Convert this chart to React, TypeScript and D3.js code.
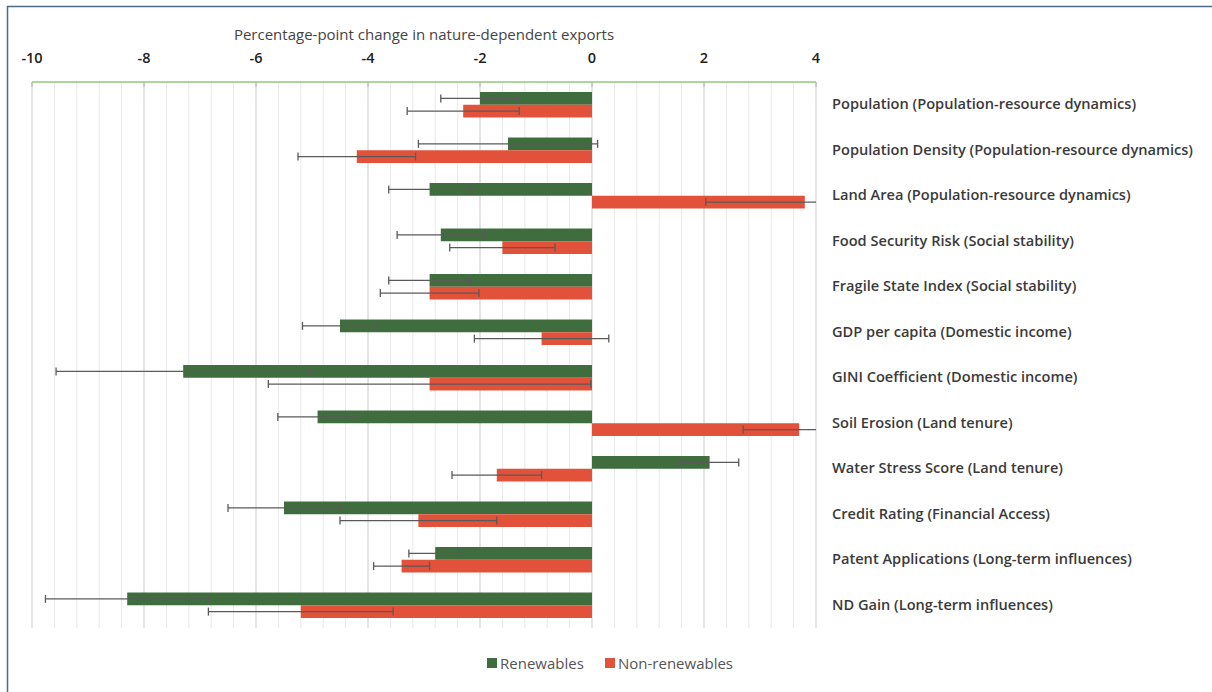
import React from "react";
import * as d3 from "d3";

const categories = [
  "Population (Population-resource dynamics)",
  "Population Density (Population-resource dynamics)",
  "Land Area (Population-resource dynamics)",
  "Food Security Risk (Social stability)",
  "Fragile State Index (Social stability)",
  "GDP per capita (Domestic income)",
  "GINI Coefficient (Domestic income)",
  "Soil Erosion (Land tenure)",
  "Water Stress Score (Land tenure)",
  "Credit Rating (Financial Access)",
  "Patent Applications (Long-term influences)",
  "ND Gain (Long-term influences)",
];
const renewables = [-2.0, -1.5, -2.9, -2.7, -2.9, -4.5, -7.3, -4.9, 2.1, -5.5, -2.8, -8.3];
const renewablesErr = [0.7, 1.6, 0.73, 0.78, 0.73, 0.67, 2.27, 0.71, 0.52, 1.0, 0.47, 1.46];
const nonRenewables = [-2.3, -4.2, 3.8, -1.6, -2.9, -0.9, -2.9, 3.7, -1.7, -3.1, -3.4, -5.2];
const nonRenewablesErr = [1.0, 1.05, 1.77, 0.94, 0.88, 1.2, 2.88, 1.0, 0.8, 1.4, 0.5, 1.65];
const xTicks = [-10, -8, -6, -4, -2, 0, 2, 4];
const seriesNames = ["Renewables", "Non-renewables"];
const axisTitle = "Percentage-point change in nature-dependent exports";

const GREEN = "#3f6d3e";
const RED = "#e2513a";
const FONT = "'Open Sans', 'Noto Sans', sans-serif";

export default function App() {
  const W = 1212;
  const H = 692;
  const left = 32;
  const right = 816;
  const top = 82;
  const bottom = 628;

  const x = d3.scaleLinear().domain([-10, 4]).range([left, right]);
  const y = d3.scaleBand<string>().domain(categories).range([top, bottom]).paddingInner(0.44).paddingOuter(0.22);
  const sub = d3.scaleBand<string>().domain(seriesNames).range([0, y.bandwidth()]);

  const minor = d3.range(-10, 4.0001, 0.4).map((v) => Math.round(v * 10) / 10);

  const series = [
    { name: seriesNames[0], vals: renewables, errs: renewablesErr, color: GREEN },
    { name: seriesNames[1], vals: nonRenewables, errs: nonRenewablesErr, color: RED },
  ];

  const clampX = (v: number) => Math.max(left, Math.min(right, x(v)));

  return (
    <svg width={W} height={H} style={{ position: "absolute", left: 0, top: 0, background: "#fff" }} fontFamily={FONT}>
      {/* frame */}
      <line x1={7} y1={6.5} x2={W} y2={6.5} stroke="#4d6b82" strokeWidth={1.5} />
      <line x1={7.5} y1={6} x2={7.5} y2={H} stroke="#4d6b82" strokeWidth={1.5} />

      {/* minor gridlines */}
      {minor.map((v, i) => (
        <line key={"m" + i} x1={x(v)} x2={x(v)} y1={top} y2={bottom} stroke="#e8e8e8" strokeWidth={1} />
      ))}
      {/* major gridlines */}
      {xTicks.map((v) => (
        <line key={"g" + v} x1={x(v)} x2={x(v)} y1={top} y2={bottom} stroke="#d6d6d6" strokeWidth={1} />
      ))}
      {/* top axis line */}
      <line x1={left} x2={right} y1={top} y2={top} stroke="#93c77a" strokeWidth={1.5} />
      {xTicks.map((v) => (
        <line key={"t" + v} x1={x(v)} x2={x(v)} y1={top} y2={top + 5} stroke="#b0b0b0" strokeWidth={1} />
      ))}
      {xTicks.map((v) => (
        <text key={"l" + v} x={x(v)} y={63} textAnchor="middle" fontSize={14.5} fontWeight={600} fill="#222">
          {v}
        </text>
      ))}
      <text x={(left + right) / 2} y={40} textAnchor="middle" fontSize={15} fontWeight={500} fill="#444">
        {axisTitle}
      </text>

      {/* bars */}
      {series.map((s) =>
        categories.map((c, i) => {
          const v = s.vals[i];
          const y0 = (y(c) ?? 0) + (sub(s.name) ?? 0);
          const h = sub.bandwidth();
          return (
            <rect
              key={s.name + c}
              x={Math.min(x(0), x(v))}
              y={y0}
              width={Math.abs(x(v) - x(0))}
              height={h}
              fill={s.color}
            />
          );
        })
      )}
      {/* error bars */}
      {series.map((s) =>
        categories.map((c, i) => {
          const v = s.vals[i];
          const e = s.errs[i];
          const cy = (y(c) ?? 0) + (sub(s.name) ?? 0) + sub.bandwidth() / 2;
          const lo = v - e;
          const hi = v + e;
          const xl = clampX(lo);
          const xh = clampX(hi);
          return (
            <g key={"e" + s.name + c} stroke="#5a5a5a" strokeWidth={1.3}>
              <line x1={xl} x2={xh} y1={cy} y2={cy} />
              {x(lo) >= left && <line x1={xl} x2={xl} y1={cy - 4} y2={cy + 4} />}
              {x(hi) <= right && <line x1={xh} x2={xh} y1={cy - 4} y2={cy + 4} />}
            </g>
          );
        })
      )}

      {/* category labels */}
      {categories.map((c) => (
        <text
          key={"c" + c}
          x={832}
          y={(y(c) ?? 0) + y.bandwidth() / 2 - 1.5}
          dominantBaseline="central"
          fontSize={14.6}
          fontWeight={600}
          fill="#3a3a3a"
        >
          {c}
        </text>
      ))}

      {/* legend */}
      {series.map((s, i) => {
        const lx = i === 0 ? 487 : 605;
        return (
          <g key={"lg" + s.name}>
            <rect x={lx} y={658} width={10} height={10} fill={s.color} />
            <text x={lx + 13} y={663} dominantBaseline="central" fontSize={15} fontWeight={500} fill="#555">
              {s.name}
            </text>
          </g>
        );
      })}
    </svg>
  );
}
